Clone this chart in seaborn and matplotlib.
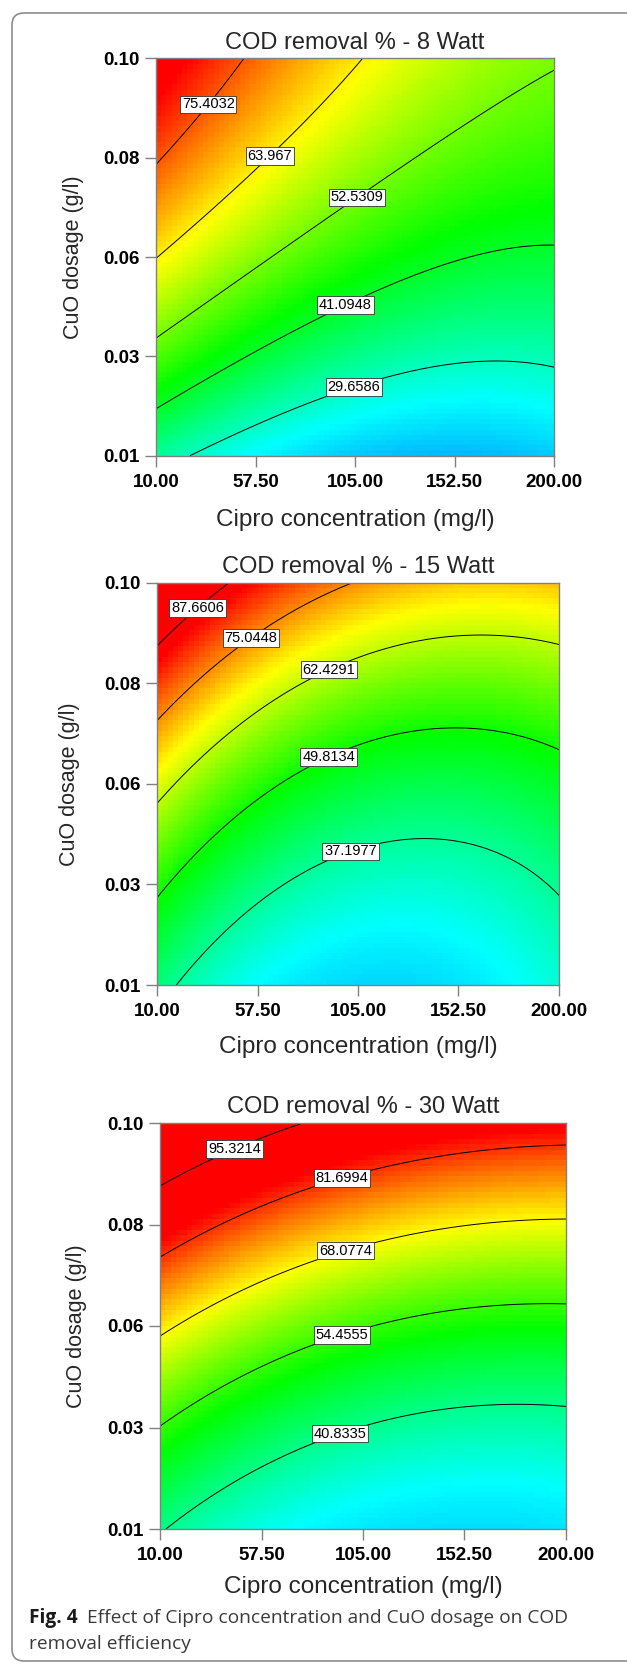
import numpy as np
import pandas as pd
import matplotlib
matplotlib.use("Agg")
import matplotlib.pyplot as plt
from matplotlib.colors import LinearSegmentedColormap
from matplotlib.patches import FancyBboxPatch
from matplotlib.transforms import IdentityTransform
import seaborn as sns

# ---- values ----
x_ticks = [10.0, 57.5, 105.0, 152.5, 200.0]
x_ticklabels = ["10.00", "57.50", "105.00", "152.50", "200.00"]
y_ticks = [0.01, 0.0325, 0.055, 0.0775, 0.10]
y_ticklabels = ["0.01", "0.03", "0.06", "0.08", "0.10"]

titles = ["COD removal % - 8 Watt", "COD removal % - 15 Watt", "COD removal % - 30 Watt"]

# points: cipro (mg/l), CuO (g/l)
levels_8w = [29.6586, 41.0948, 52.5309, 63.967, 75.4032]
cipro_8w = [[29.4, 66.8, 104.2, 159.9, 174.0, 200.0],
            [10.0, 58.8, 99.7, 159.9, 200.0],
            [10.0, 62.8, 104.5, 150.3, 200.0],
            [10.0, 39.0, 62.5, 86.7, 107.4],
            [10.0, 33.3, 53.0]]
cuo_8w = [[0.0100, 0.0192, 0.0260, 0.0302, 0.0311, 0.0308],
          [0.0211, 0.0339, 0.0449, 0.0541, 0.0579],
          [0.0370, 0.0543, 0.0696, 0.0826, 0.0973],
          [0.0551, 0.0634, 0.0788, 0.0860, 0.1000],
          [0.0757, 0.0902, 0.1000]]

levels_15w = [37.1977, 49.8134, 62.4291, 75.0448, 87.6606]
cipro_15w = [[18.0, 31.1, 65.8, 100.7, 139.8, 157.9, 200.0],
             [10.0, 42.1, 86.1, 103.6, 124.0, 151.3, 200.0],
             [10.0, 28.0, 77.6, 103.6, 124.0, 160.0, 200.0],
             [10.0, 26.4, 53.2, 76.8, 103.6],
             [10.0, 28.3, 46.9]]
cuo_15w = [[0.0100, 0.0160, 0.0309, 0.0409, 0.0428, 0.0417, 0.0301],
           [0.0297, 0.0443, 0.0596, 0.0630, 0.0652, 0.0678, 0.0622],
           [0.0509, 0.0593, 0.0793, 0.0827, 0.0853, 0.0889, 0.0862],
           [0.0689, 0.0771, 0.0883, 0.0935, 0.1000],
           [0.0853, 0.0947, 0.1000]]

levels_30w = [40.8335, 54.4555, 68.0774, 81.6994, 95.3214]
cipro_30w = [[10.9, 32.5, 43.4, 93.6, 157.9, 200.0],
             [10.0, 41.8, 94.8, 157.9, 200.0],
             [10.0, 45.0, 96.4, 157.9, 200.0],
             [10.0, 41.8, 94.8, 157.9, 200.0],
             [10.0, 44.2, 82.4]]
cuo_30w = [[0.0100, 0.0164, 0.0191, 0.0320, 0.0370, 0.0375],
           [0.0331, 0.0413, 0.0538, 0.0586, 0.0597],
           [0.0531, 0.0616, 0.0724, 0.0771, 0.0787],
           [0.0703, 0.0778, 0.0885, 0.0935, 0.0955],
           [0.0858, 0.0950, 0.0998]]

# where the value boxes sit (cipro, CuO)
label_pos = [
    [(104.2, 0.026), (99.7, 0.0449), (104.5, 0.0696), (62.5, 0.0788), (33.3, 0.0902)],
    [(100.7, 0.0409), (90.2, 0.0619), (90.2, 0.0817), (53.2, 0.0883), (28.3, 0.0947)],
    [(93.6, 0.032), (94.8, 0.0538), (96.4, 0.0724), (94.8, 0.0885), (44.2, 0.095)],
]
# response values at which the ramp hits blue, cyan, green, yellow, red
ramp_stops = [(-2, 25, 44, 63, 82), (0, 29, 49, 67, 85), (0, 32, 51, 68, 85)]
ramp_colors = ["#0000ff", "#00ffff", "#00ff00", "#ffff00", "#ff0000"]

panels = [(levels_8w, cipro_8w, cuo_8w),
          (levels_15w, cipro_15w, cuo_15w),
          (levels_30w, cipro_30w, cuo_30w)]

# axes boxes in pixels: left, top, width, height
boxes = [(156, 58.3, 398, 397.4), (157, 582.5, 402, 402.5), (160, 1123, 406, 406)]
xlabel_off = [64, 62, 58]
ylabel_off = [82, 87, 84]

W, H = 627, 1664
n = 76


def coded(cx, cy):
    return (np.asarray(cx) - 105.0) / 95.0, (np.asarray(cy) - 0.055) / 0.045


def terms(a, b):
    return np.stack([np.ones_like(a), a, b, a * b, a ** 2, b ** 2,
                     a * a * b, a * b * b, a ** 3], axis=-1)


def fit_surface(levels, cipro_pts, cuo_pts):
    xs, ys, zs = [], [], []
    for lev, xx, yy in zip(levels, cipro_pts, cuo_pts):
        xs += xx
        ys += yy
        zs += [lev] * len(xx)
    coef, *_ = np.linalg.lstsq(terms(*coded(xs, ys)), np.array(zs), rcond=None)
    return lambda cx, cy: terms(*coded(cx, cy)) @ coef


def to_cell_x(x):
    return (np.asarray(x) - 10.0) / 190.0 * n


def to_cell_y(y):
    return (0.10 - np.asarray(y)) / 0.09 * n


def fmt(v):
    return f"{v:.4f}".rstrip("0").rstrip(".")


sns.set_style("ticks")
plt.rcParams["font.family"] = ["Liberation Sans", "DejaVu Sans"]

fig = plt.figure(figsize=(W / 100, H / 100), dpi=100)

for i, (levels, cp, cu) in enumerate(panels):
    l, t, w, h = boxes[i]
    ax = fig.add_axes([l / W, 1 - (t + h) / H, w / W, h / H])
    f = fit_surface(levels, cp, cu)

    stops = ramp_stops[i]
    vmin, vmax = stops[0], stops[-1]
    cmap = LinearSegmentedColormap.from_list(
        "dx", [((s - vmin) / (vmax - vmin), c) for s, c in zip(stops, ramp_colors)])

    cx = 10 + (np.arange(n) + 0.5) * 190 / n
    cy = 0.10 - (np.arange(n) + 0.5) * 0.09 / n
    CX, CY = np.meshgrid(cx, cy)
    df = pd.DataFrame(f(CX, CY), index=np.round(cy, 4), columns=np.round(cx, 2))
    sns.heatmap(df, ax=ax, cmap=cmap, vmin=vmin, vmax=vmax, cbar=False,
                xticklabels=False, yticklabels=False)

    fx = np.linspace(10, 200, 300)
    fy = np.linspace(0.01, 0.10, 300)
    FX, FY = np.meshgrid(fx, fy)
    cs = ax.contour(to_cell_x(FX), to_cell_y(FY), f(FX, FY), levels=levels,
                    colors="black", linewidths=0.7)
    manual = [(to_cell_x(x), to_cell_y(y)) for x, y in label_pos[i]]
    labels = ax.clabel(cs, levels, inline=False, fmt=fmt, fontsize=10.5, manual=manual)
    for txt in labels:
        txt.set_rotation(0)
        txt.set_bbox(dict(boxstyle="square,pad=0.12", fc="white", ec="#333333", lw=0.6))

    ax.set_xticks(to_cell_x(x_ticks))
    ax.set_xticklabels(x_ticklabels, rotation=0, fontweight="bold")
    ax.set_yticks(to_cell_y(y_ticks))
    ax.set_yticklabels(y_ticklabels, rotation=0, fontweight="bold")
    ax.set_xlim(0, n)
    ax.set_ylim(n, 0)
    ax.tick_params(length=8, width=1, color="#808080", labelsize=13.5, labelcolor="black")
    ax.tick_params(axis="x", pad=5)
    ax.tick_params(axis="y", pad=4)
    for sp in ax.spines.values():
        sp.set_visible(True)
        sp.set_color("#808080")
        sp.set_linewidth(1)

    ax.set_title(titles[i], fontsize=17, pad=7)
    ax.set_xlabel("Cipro concentration (mg/l)", fontsize=17.5, va="center")
    ax.xaxis.set_label_coords(0.5, -xlabel_off[i] / h)
    ax.set_ylabel("CuO dosage (g/l)", fontsize=15.5, va="center")
    ax.yaxis.set_label_coords(-ylabel_off[i] / w, 0.5)

# rounded frame around the figure
frame = FancyBboxPatch((12, 3), 720, H - 16, boxstyle="round,pad=0,rounding_size=12",
                       transform=IdentityTransform(), fill=False, ec="#8c8c8c", lw=1.2)
fig.add_artist(frame)

cap_font = ["Open Sans", "DejaVu Sans"]
fig_lbl = fig.text(29 / W, 1 - 1618 / H, "Fig. 4", fontsize=13.8, fontweight="bold",
                   family=cap_font, va="center", color="#1a1a1a")
fig.canvas.draw()
bb = fig_lbl.get_window_extent()
fig.text((bb.x1 + 9) / W, 1 - 1618 / H, "Effect of Cipro concentration and CuO dosage on COD",
         fontsize=13.8, family=cap_font, va="center", color="#3a3a3a")
fig.text(29 / W, 1 - 1644 / H, "removal efficiency", fontsize=13.8, family=cap_font,
         va="center", color="#3a3a3a")

fig.savefig("out.png", dpi=100)
